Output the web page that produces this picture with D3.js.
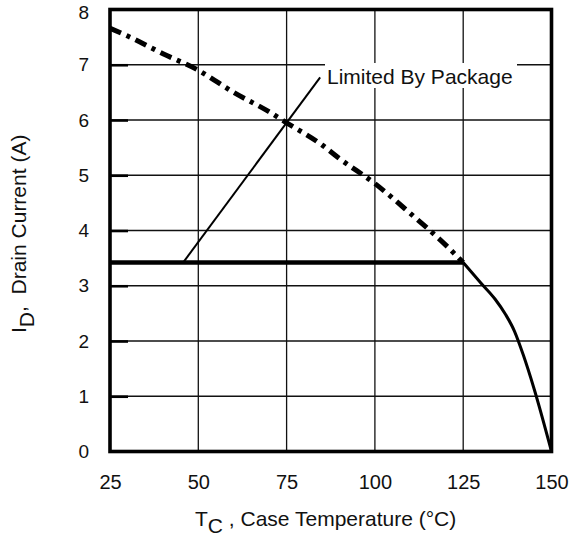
<!DOCTYPE html>
<html>
<head>
<meta charset="utf-8">
<script src="https://cdn.jsdelivr.net/npm/d3@7"></script>
<style>
  html, body { margin: 0; padding: 0; background: #fff; }
  svg { display: block; }
  text { font-family: "Liberation Sans", Arial, Helvetica, sans-serif; fill: #111; }
</style>
</head>
<body>
<svg id="chart" width="572" height="537"></svg>
<script>
// Case temperature ticks (°C) and drain current ticks (A)
const xTicks = [25, 50, 75, 100, 125, 150];
const yTicks = [0, 1, 2, 3, 4, 5, 6, 7, 8];

// Silicon-limited drain current (dashed above the package limit)
const siliconTemp = [25, 30, 40, 50, 60, 70, 75, 85, 90, 100, 110, 120, 125];
const siliconCurrent = [7.66, 7.52, 7.2, 6.9, 6.5, 6.15, 5.95, 5.55, 5.3, 4.85, 4.31, 3.74, 3.42];

// Derated drain current once below the package limit
const deratedTemp = [125, 130, 134, 137, 139.5, 142, 145, 150];
const deratedCurrent = [3.42, 3.05, 2.76, 2.48, 2.18, 1.75, 1.15, 0];

// Package current limit
const packageLimit = 3.42;
const packageTemp = [25, 125];

// Callout leader for the package-limit label
const calloutTemp = [45.7, 84.5];
const calloutCurrent = [3.42, 6.77];
const calloutText = "Limited By Package";

const svg = d3.select("#chart");
const x = d3.scaleLinear().domain([25, 150]).range([110, 551.5]);
const y = d3.scaleLinear().domain([0, 8]).range([451.5, 9.5]);

// Grid
const grid = svg.append("g");
grid.selectAll("line.v").data(xTicks.slice(1, -1)).join("line")
  .attr("x1", d => x(d)).attr("x2", d => x(d))
  .attr("y1", y(0)).attr("y2", y(8))
  .attr("stroke", "#111").attr("stroke-width", 1.3);
grid.selectAll("line.h").data(yTicks.slice(1, -1)).join("line")
  .attr("x1", x(25)).attr("x2", x(150))
  .attr("y1", d => y(d)).attr("y2", d => y(d))
  .attr("stroke", "#111").attr("stroke-width", 1.3);

// Short inward ticks on the left edge
const inner = svg.append("g").attr("transform", `translate(${x(25)},0)`)
  .call(d3.axisRight(y).tickValues(yTicks.slice(1, -1)).tickSize(18).tickFormat(""));
inner.select(".domain").remove();
inner.selectAll("line").attr("stroke", "#000").attr("stroke-width", 2.6);

// Tick labels
const yAxis = svg.append("g").attr("transform", `translate(${x(25)},0)`)
  .call(d3.axisLeft(y).tickValues(yTicks).tickSize(0).tickPadding(21).tickFormat(d3.format("d")));
yAxis.select(".domain").remove();
yAxis.selectAll("text").attr("font-size", 19).attr("font-family", null).attr("fill", "#111");
// keep the top label inside the page
yAxis.selectAll("text").filter(d => d === 8).attr("dy", "0.36em").attr("y", 2);

const xAxis = svg.append("g").attr("transform", `translate(0,${y(0)})`)
  .call(d3.axisBottom(x).tickValues(xTicks).tickSize(0).tickPadding(23).tickFormat(d3.format("d")));
xAxis.select(".domain").remove();
xAxis.selectAll("text").attr("font-size", 20).attr("font-family", null).attr("fill", "#111");

// Callout label with white backing
const labelX = 325, labelY = 63;
svg.append("rect").attr("x", labelX).attr("y", labelY).attr("width", 192).attr("height", 25).attr("fill", "#fff");
svg.append("text").attr("x", labelX + 2).attr("y", labelY + 21)
  .attr("font-size", 21).text(calloutText);

// Callout leader
const line = d3.line().x(d => x(d[0])).y(d => y(d[1]));
svg.append("path")
  .attr("d", line(d3.zip(calloutTemp, calloutCurrent)))
  .attr("fill", "none").attr("stroke", "#000").attr("stroke-width", 2);

// Package limit
svg.append("path")
  .attr("d", line(packageTemp.map(t => [t, packageLimit])))
  .attr("fill", "none").attr("stroke", "#000").attr("stroke-width", 4.6);

// Silicon limit (dashed)
const curve = d3.line().x(d => x(d[0])).y(d => y(d[1])).curve(d3.curveMonotoneX);
svg.append("path")
  .attr("d", curve(d3.zip(siliconTemp, siliconCurrent)))
  .attr("fill", "none").attr("stroke", "#000").attr("stroke-width", 5)
  .attr("stroke-dasharray", "12,6,4,6");

// Derating curve
svg.append("path")
  .attr("d", curve(d3.zip(deratedTemp, deratedCurrent)))
  .attr("fill", "none").attr("stroke", "#000").attr("stroke-width", 3)
  .attr("stroke-linejoin", "round");

// Frame
svg.append("rect")
  .attr("x", x(25)).attr("y", y(8))
  .attr("width", x(150) - x(25)).attr("height", y(0) - y(8))
  .attr("fill", "none").attr("stroke", "#000").attr("stroke-width", 3.6);

// Axis titles
const xt = svg.append("text").attr("x", 195).attr("y", 525.5).attr("font-size", 21);
xt.append("tspan").text("T");
xt.append("tspan").attr("dy", 7).text("C");
xt.append("tspan").attr("dy", -7).text(" , Case Temperature (°C)");

const yt = svg.append("text")
  .attr("transform", "translate(25.5,333) rotate(-90)")
  .attr("font-size", 21);
yt.append("tspan").text("I");
yt.append("tspan").attr("dy", 8).text("D");
yt.append("tspan").attr("dy", -8).text(",\u00A0\u00A0Drain Current (A)");
</script>
</body>
</html>
